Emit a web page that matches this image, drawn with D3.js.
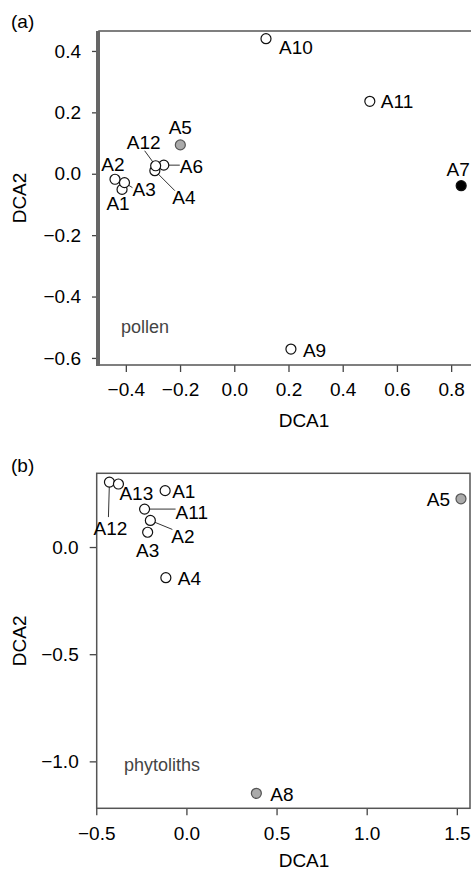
<!DOCTYPE html>
<html>
<head>
<meta charset="utf-8">
<script src="https://cdn.jsdelivr.net/npm/d3@7"></script>
<style>
  body { margin: 0; background: #fff; }
  svg { display: block; font-family: "Liberation Sans", Arial, sans-serif; }
</style>
</head>
<body>
<svg id="chart" width="471" height="872"></svg>
<script>
// (a) pollen DCA scores
const pollenSites = ['A1', 'A2', 'A3', 'A4', 'A5', 'A6', 'A7', 'A9', 'A10', 'A11', 'A12']
const pollenDCA1 = [-0.414, -0.44, -0.405, -0.293, -0.199, -0.26, 0.837, 0.209, 0.117, 0.50, -0.29]
const pollenDCA2 = [-0.051, -0.018, -0.029, 0.010, 0.094, 0.028, -0.039, -0.571, 0.44, 0.236, 0.026]
const pollenType = ['open', 'open', 'open', 'open', 'grey', 'open', 'black', 'open', 'open', 'open', 'open']
const pollenXTicks = [-0.4, -0.2, 0.0, 0.2, 0.4, 0.6, 0.8]
const pollenYTicks = [-0.6, -0.4, -0.2, 0.0, 0.2, 0.4]

// (b) phytolith DCA scores
const phytoSites = ['A1', 'A2', 'A3', 'A4', 'A5', 'A8', 'A11', 'A12', 'A13']
const phytoDCA1 = [-0.118, -0.2, -0.215, -0.114, 1.523, 0.388, -0.232, -0.427, -0.377]
const phytoDCA2 = [0.263, 0.124, 0.069, -0.143, 0.225, -1.149, 0.177, 0.303, 0.294]
const phytoType = ['open', 'open', 'open', 'open', 'grey', 'grey', 'open', 'open', 'open']
const phytoXTicks = [-0.5, 0.0, 0.5, 1.0, 1.5]
const phytoYTicks = [-1.0, -0.5, 0.0]

// label placement (pixel offsets from the point), leader = [dx, dy] end of line
const pollenLabels = {
    A1: { dx: -4, dy: 14, anchor: 'middle' },
    A2: { dx: -2, dy: -15, anchor: 'middle' },
    A3: { dx: 8, dy: 7, anchor: 'start', leader: [8, 5] },
    A4: { dx: 29, dy: 27, anchor: 'middle', leader: [20, 20] },
    A5: { dx: 0, dy: -17, anchor: 'middle' },
    A6: { dx: 16, dy: 1, anchor: 'start', leader: [16, 0] },
    A7: { dx: -3, dy: -16, anchor: 'middle' },
    A9: { dx: 12, dy: 1, anchor: 'start' },
    A10: { dx: 13, dy: 9, anchor: 'start' },
    A11: { dx: 11, dy: 0, anchor: 'start' },
    A12: { dx: -12, dy: -23, anchor: 'middle', leader: [-11, -15] }
}
const phytoLabels = {
    A1: { dx: 7, dy: 1, anchor: 'start' },
    A2: { dx: 21, dy: 16, anchor: 'start', leader: [22, 9] },
    A3: { dx: 0, dy: 18, anchor: 'middle' },
    A4: { dx: 12, dy: 1, anchor: 'start' },
    A5: { dx: -11, dy: 1, anchor: 'end' },
    A8: { dx: 14, dy: 1, anchor: 'start' },
    A11: { dx: 31, dy: 3, anchor: 'start', leader: [31, 0] },
    A12: { dx: 1, dy: 46, anchor: 'middle', leader: [-1, 35] },
    A13: { dx: 1, dy: 9, anchor: 'start' }
}

const fills = { open: '#fff', grey: '#aaa', black: '#000' }
const svg = d3.select('#chart')

function drawPanel(opt) {
    const x = d3.scaleLinear().domain(opt.xDomain).range([opt.left, opt.right])
    const y = d3.scaleLinear().domain(opt.yDomain).range([opt.bottom, opt.top])
    const g = svg.append('g')

    // axes (R style: ticks outside the box)
    const xAxis = d3.axisBottom(x).tickValues(opt.xTicks).tickFormat(d3.format('.1f'))
        .tickSizeInner(7).tickSizeOuter(0).tickPadding(11)
    const yAxis = d3.axisLeft(y).tickValues(opt.yTicks).tickFormat(d3.format('.1f'))
        .tickSizeInner(7).tickSizeOuter(0).tickPadding(11)
    g.append('g').attr('transform', 'translate(0,' + opt.bottom + ')').call(xAxis)
    g.append('g').attr('transform', 'translate(' + opt.left + ',0)').call(yAxis)
    g.selectAll('.domain').remove()
    g.selectAll('.tick line').attr('stroke', '#444').attr('stroke-width', 1.3)
    g.selectAll('.tick text').attr('font-size', 19).attr('fill', '#000')
        .attr('font-family', '"Liberation Sans", Arial, sans-serif')

    // box
    g.append('rect').attr('x', opt.left).attr('y', opt.top)
        .attr('width', opt.right - opt.left).attr('height', opt.bottom - opt.top)
        .attr('fill', 'none').attr('stroke', '#555').attr('stroke-width', 1.5)
    if (opt.thickLeft) {
        g.append('line').attr('x1', opt.left - 1).attr('x2', opt.left - 1)
            .attr('y1', opt.top).attr('y2', opt.bottom + 1)
            .attr('stroke', '#666').attr('stroke-width', 4)
    }

    const pts = opt.sites.map((s, i) => ({ site: s, px: x(opt.dca1[i]), py: y(opt.dca2[i]), type: opt.type[i] }))

    // leader lines
    pts.forEach(p => {
        const l = opt.labels[p.site]
        if (l && l.leader) {
            g.append('line').attr('x1', p.px).attr('y1', p.py)
                .attr('x2', p.px + l.leader[0]).attr('y2', p.py + l.leader[1])
                .attr('stroke', '#333').attr('stroke-width', 1)
        }
    })

    g.selectAll('circle.pt').data(pts).enter().append('circle')
        .attr('class', 'pt')
        .attr('cx', d => d.px).attr('cy', d => d.py).attr('r', 5)
        .attr('fill', d => fills[d.type])
        .attr('stroke', d => d.type == 'grey' ? '#555' : '#111')
        .attr('stroke-width', 1.2)

    g.selectAll('text.lab').data(pts).enter().append('text')
        .attr('class', 'lab')
        .attr('x', d => d.px + opt.labels[d.site].dx)
        .attr('y', d => d.py + opt.labels[d.site].dy)
        .attr('text-anchor', d => opt.labels[d.site].anchor)
        .attr('dominant-baseline', 'central')
        .attr('font-size', 19).attr('fill', '#000')
        .text(d => d.site)

    // panel note, axis titles, letter
    g.append('text').attr('x', opt.noteX).attr('y', opt.noteY)
        .attr('dominant-baseline', 'central').attr('font-size', 18).attr('fill', '#444')
        .text(opt.note)
    g.append('text').attr('x', 304).attr('y', opt.bottom + opt.titleGap)
        .attr('text-anchor', 'middle').attr('dominant-baseline', 'central')
        .attr('font-size', 19).attr('fill', '#000').text('DCA1')
    g.append('text').attr('transform', 'translate(19,' + (opt.top + opt.bottom) / 2 + ') rotate(-90)')
        .attr('text-anchor', 'middle').attr('dominant-baseline', 'central')
        .attr('font-size', 19).attr('fill', '#000').text('DCA2')
    g.append('text').attr('x', 11).attr('y', opt.letterY)
        .attr('dominant-baseline', 'central').attr('font-size', 19).attr('fill', '#000')
        .text(opt.letter)
}

drawPanel({
    sites: pollenSites, dca1: pollenDCA1, dca2: pollenDCA2, type: pollenType,
    labels: pollenLabels, xTicks: pollenXTicks, yTicks: pollenYTicks,
    xDomain: [-0.499, 0.888], yDomain: [-0.623, 0.465],
    left: 99, right: 475, top: 31, bottom: 365, thickLeft: true, titleGap: 55,
    note: 'pollen', noteX: 121, noteY: 327, letter: '(a)', letterY: 21
})

drawPanel({
    sites: phytoSites, dca1: phytoDCA1, dca2: phytoDCA2, type: phytoType,
    labels: phytoLabels, xTicks: phytoXTicks, yTicks: phytoYTicks,
    xDomain: [-0.4976, 1.573], yDomain: [-1.219, 0.344],
    left: 96.7, right: 470, top: 473.3, bottom: 808.3, thickLeft: false, titleGap: 52,
    note: 'phytoliths', noteX: 124, noteY: 765, letter: '(b)', letterY: 465
})
</script>
</body>
</html>
